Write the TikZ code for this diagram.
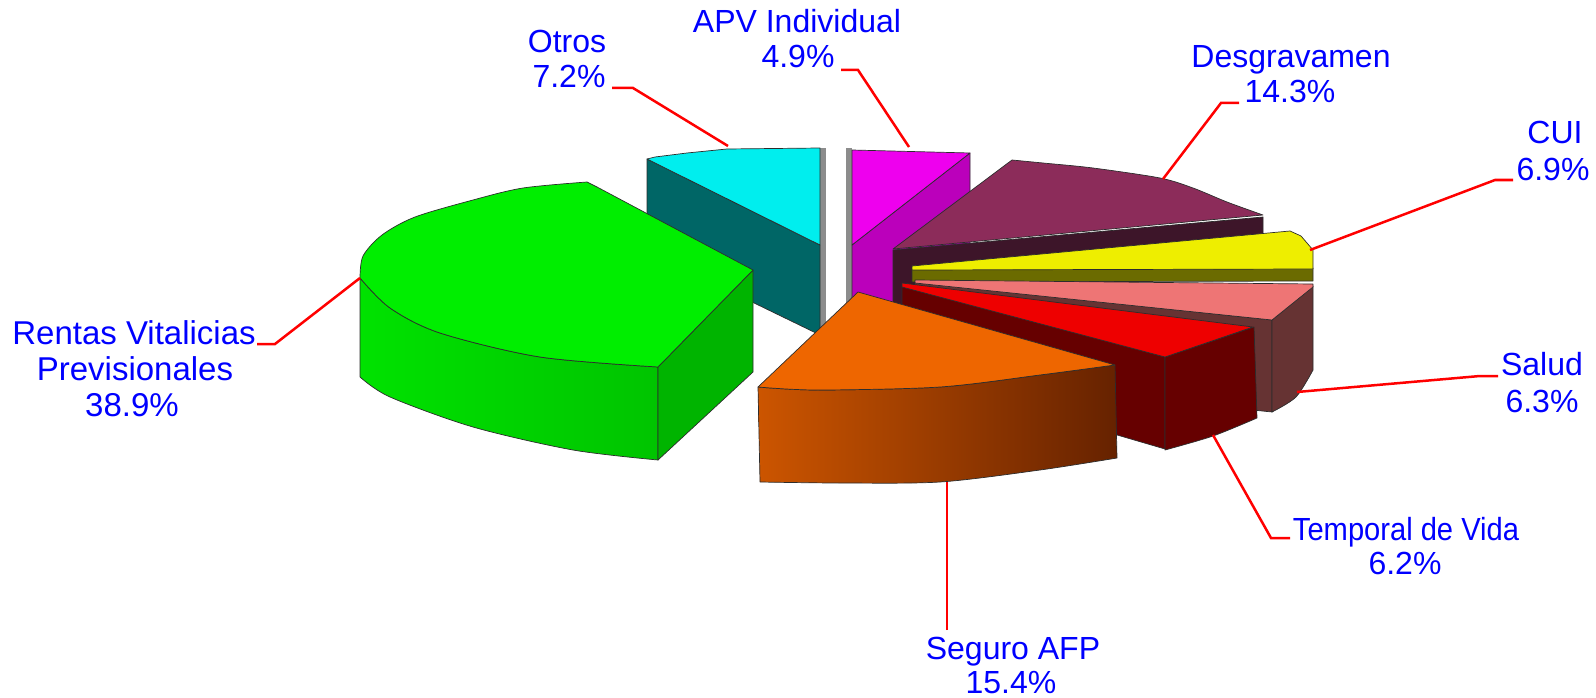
\documentclass[tikz,border=0pt]{standalone}
\usepackage{fontspec}
\setmainfont{Liberation Sans}
\definecolor{lblblue}{RGB}{0,0,255}
\definecolor{leadred}{RGB}{255,0,0}
\definecolor{edgec}{RGB}{45,45,45}
\definecolor{magTop}{RGB}{238,0,238}
\definecolor{magSide}{RGB}{187,0,187}
\definecolor{cyanTop}{RGB}{0,238,238}
\definecolor{tealSide}{RGB}{0,102,102}
\definecolor{desTop}{RGB}{140,44,90}
\definecolor{desSide}{RGB}{61,21,41}
\definecolor{cuiTop}{RGB}{238,238,0}
\definecolor{cuiSide}{RGB}{107,107,0}
\definecolor{salTop}{RGB}{238,117,117}
\definecolor{salSide}{RGB}{102,51,51}
\definecolor{temTop}{RGB}{238,0,0}
\definecolor{temSide}{RGB}{102,0,0}
\definecolor{oraTop}{RGB}{238,102,0}
\definecolor{oraL}{RGB}{204,85,0}
\definecolor{oraR}{RGB}{102,34,0}
\definecolor{grnTop}{RGB}{0,238,0}
\definecolor{grnL}{RGB}{0,226,0}
\definecolor{grnR}{RGB}{0,196,0}
\definecolor{grnFace}{RGB}{0,180,0}
\definecolor{shadowc}{RGB}{140,140,140}
\begin{document}
\begin{tikzpicture}[x=1pt,y=-1pt,
  edge/.style={draw=edgec, line width=0.7pt, line join=round},
  shadowstrip/.style={fill=shadowc, draw=none},
  lbl/.style={text=lblblue, font=\fontsize{32}{36}\selectfont, inner sep=0pt, anchor=base},
  leader/.style={draw=leadred, line width=2.5pt, line join=miter}]
\useasboundingbox (0,0) rectangle (1596,698);

% ---------- APV Individual (magenta) ----------
\path[shadowstrip] (846,148) rectangle (852,340);
\path[edge, fill=magSide] (852,245) -- (970,153) -- (970,250) -- (852,340) -- cycle;
\path[edge, fill=magTop] (852,150) -- (970,153) -- (852,245) -- cycle;

% ---------- Otros (cyan) ----------
\path[shadowstrip] (820,148) rectangle (826,336);
\path[edge, fill=tealSide] (647,159) -- (820,245) -- (820,335) -- (647,251) -- cycle;
\path[edge, fill=cyanTop] (647,159) -- (655,157) -- (687,153) -- (727,149) -- (820,148) -- (820,245) -- cycle;

% ---------- Desgravamen ----------
\path[edge, fill=desSide] (893,250) -- (1263,217) -- (1263,240) -- (893,345) -- cycle;
\path[edge, fill=desTop] (893,249) -- (1012,160) -- plot[smooth] coordinates {(1012,160) (1043,163) (1093,168) (1160,178) (1193,188) (1227,202) (1263,215)} -- cycle;

% ---------- CUI ----------
\path[edge, fill=cuiSide] (912,268) -- (1313,268) -- (1313,281) -- (912,282) -- cycle;
\path[edge, fill=cuiTop] (912,266) -- (1290,231) -- (1301,236) -- (1313,250) -- (1313,269) -- (912,270) -- cycle;

% ---------- Salud ----------
\path[edge, fill=salSide] (915,282) -- (1272,320) -- (1272,412) -- (915,375) -- cycle;
\path[edge, fill=salSide] (1272,320) -- (1313,286) -- (1313,370) -- plot[smooth] coordinates {(1313,370) (1296,397) (1272,412)} -- cycle;
\path[edge, fill=salTop] (915,280) -- (1313,284) -- (1313,287) -- (1272,320) -- (915,283) -- cycle;

% ---------- Temporal de Vida ----------
\path[edge, fill=temSide] (902,284) -- (1165,357) -- (1165,449) -- (902,372) -- cycle;
\path[edge, fill=temSide] (1165,357) -- (1254,327) -- (1257,418) -- plot[smooth] coordinates {(1257,418) (1213,436) (1165,450)} -- cycle;
\path[edge, fill=temTop] (902,283) -- (1253,327) -- (1165,357) -- (902,287) -- cycle;

% ---------- Rentas Vitalicias Previsionales (green) ----------
\path[edge, left color=grnL, right color=grnR] (360,278) -- plot[smooth] coordinates {(360,278) (390,308) (440,333) (540,357) (658,367)} -- (658,460) -- plot[smooth] coordinates {(658,460) (573,450) (473,427) (390,397) (360,377)} -- cycle;
\path[edge, fill=grnFace] (658,367) -- (753,270) -- (753,372) -- (658,460) -- cycle;
\path[edge, fill=grnTop] (360,278) -- plot[smooth] coordinates {(360,278) (363,256) (382,235) (415,217) (473,200) (523,188) (587,182)} -- (597,187) -- (753,270) -- (658,367) -- plot[smooth] coordinates {(658,367) (540,357) (440,333) (390,308) (360,278)} -- cycle;

% ---------- Seguro AFP (orange) ----------
\path[edge, left color=oraL, right color=oraR] (758,387) -- plot[smooth] coordinates {(758,387) (817,390) (940,387) (1040,375) (1115,365)} -- (1117,458) -- plot[smooth] coordinates {(1117,458) (1040,470) (940,482) (840,483) (760,482)} -- cycle;
\path[edge, fill=oraTop] (858,292) -- (1115,365) -- plot[smooth] coordinates {(1115,365) (1040,375) (940,387) (817,390) (758,387)} -- cycle;

% ---------- Labels ----------
\node[lbl] (otros1) at (567,53) {Otros};
\node[lbl] (otros2) at (569,88) {7.2\%};
\node[lbl] (apv1) at (797,33) {APV Individual};
\node[lbl] (apv2) at (798,68) {4.9\%};
\node[lbl] (des1) at (1291,68) {Desgravamen};
\node[lbl] (des2) at (1290,103) {14.3\%};
\node[lbl] (cui1) at (1555,143) {CUI};
\node[lbl] (cui2) at (1553,180) {6.9\%};
\node[lbl] (sal1) at (1542,375) {Salud};
\node[lbl] (sal2) at (1542,412) {6.3\%};
\node[lbl] (tem1) at (1406,540) {\scalebox{0.91}[1]{Temporal de Vida}};
\node[lbl] (tem2) at (1405,574) {6.2\%};
\node[lbl] (seg1) at (1013,659) {Seguro AFP};
\node[lbl] (seg2) at (1011,693) {15.4\%};
\node[lbl, font=\fontsize{33}{36}\selectfont] (ren1) at (134,344) {Rentas Vitalicias};
\node[lbl, font=\fontsize{33}{36}\selectfont] (ren2) at (135,380) {Previsionales};
\node[lbl, font=\fontsize{33}{36}\selectfont] (ren3) at (132,416) {38.9\%};

% ---------- Leader lines ----------
\coordinate (otrosS) at (612,88);
\coordinate (otrosE) at (728,146);
\coordinate (apvS) at (841,70);
\coordinate (apvE) at (909,147);
\coordinate (desS) at (1239,103);
\coordinate (desE) at (1163,179);
\coordinate (cuiS) at (1513,180);
\coordinate (cuiE) at (1310,250);
\coordinate (salS) at (1498,376);
\coordinate (salE) at (1297,392);
\coordinate (temS) at (1290,538);
\coordinate (temE) at (1213,435);
\coordinate (segS) at (947,630);
\coordinate (segE) at (947,482);
\coordinate (renS) at (257,344);
\coordinate (renE) at (360,278);

\draw[leader] (otrosS) -- ++(21,0) -- (otrosE);
\draw[leader] (apvS) -- ++(17,0) -- (apvE);
\draw[leader] (desS) -- ++(-18,0) -- (desE);
\draw[leader] (cuiS) -- ++(-18,0) -- (cuiE);
\draw[leader] (salS) -- ++(-18,0) -- (salE);
\draw[leader] (temS) -- ++(-19,0) -- (temE);
\draw[leader] (segS) -- (segE);
\draw[leader] (renS) -- ++(18,0) -- (renE);
\end{tikzpicture}
\end{document}
